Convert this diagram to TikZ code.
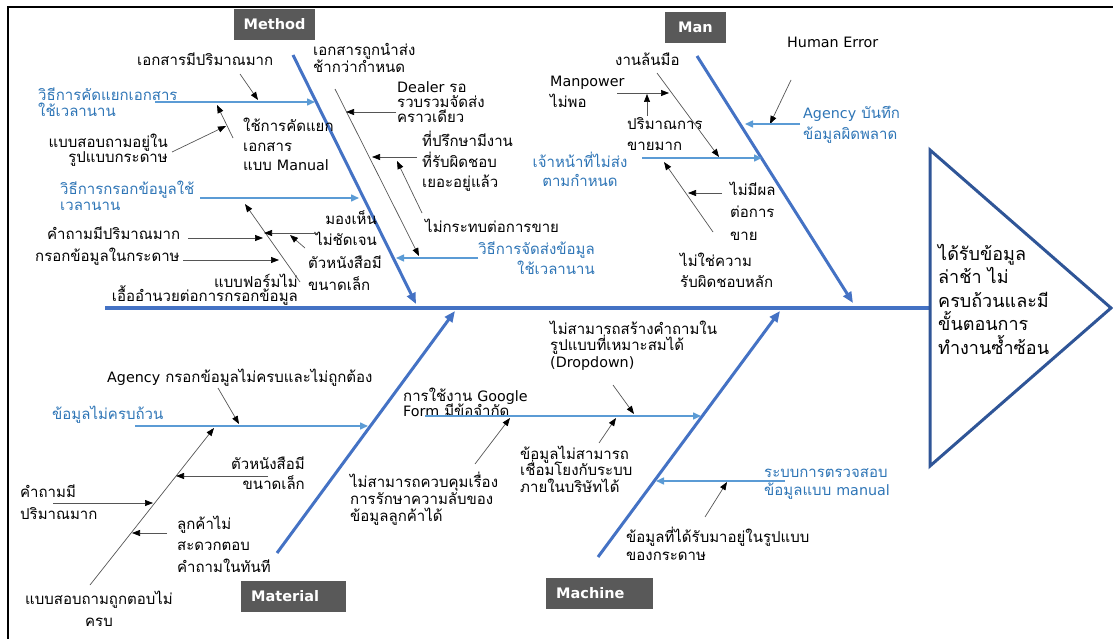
\documentclass[tikz,border=0pt]{standalone}
\usepackage{fontspec}
\setmainfont[Script=Thai]{Loma}
\newfontfamily\latfont{DejaVu Sans}
\newfontfamily\tagfont{DejaVu Sans}
\usetikzlibrary{arrows.meta}
\definecolor{bone}{HTML}{4472C4}
\definecolor{rib}{HTML}{5B9BD5}
\definecolor{ribtext}{HTML}{2E75B6}
\definecolor{tri}{HTML}{2F5597}
\definecolor{tag}{HTML}{595959}
\definecolor{twig}{HTML}{555555}
% body text with a chosen line skip; Latin words in a Tahoma-like face
\newcommand\lbf[1]{\fontsize{15}{#1}\selectfont\lineskiplimit=-100pt\relax}
\newcommand\headfont{\fontsize{18}{23.5}\selectfont\lineskiplimit=-100pt\relax}
\newcommand\lat[1]{{\latfont\fontsize{14.3}{0}\selectfont #1}}
\tikzset{
  lab/.style={inner sep=0pt, align=left, anchor=base west, font=\lbf{#1}},
  lab/.default=19,
  labr/.style={lab=#1, align=right, anchor=base east},
  labr/.default=19,
  labc/.style={lab=#1, align=center, anchor=base},
  labc/.default=19,
  blue/.style={text=ribtext},
  tagbox/.style={fill=tag, text=white, font=\tagfont\bfseries\fontsize{14.5}{15}\selectfont,
    minimum height=31pt, inner ysep=0pt},
  bonearrow/.style={draw=bone, line width=3pt, -{Triangle[length=11pt,width=9pt]}},
  ribarrow/.style={draw=rib, line width=1.5pt, -{Triangle[length=8pt,width=7pt]}},
  twig/.style={draw=twig, line width=0.7pt, -{Triangle[length=8pt,width=6pt,color=black]}},
}
\begin{document}
\begin{tikzpicture}[x=1pt,y=-1pt]
\useasboundingbox (0,0) rectangle (1113,639);
% frame
\draw[line width=2.5pt] (8,645) -- (8,7) -- (1120,7);

% ---------- spine and head ----------
\coordinate (sp0) at (105,308);
\coordinate (sp1) at (930,308);
\draw[draw=bone, line width=3.5pt] (sp0) -- (sp1);
\draw[draw=tri, line width=3pt, line join=miter] (930,150) -- (1111,308) -- (930,466) -- cycle;
\node[lab, font=\headfont] (head) at (938,354)
  {ได้รับข้อมูล\\ล่าช้า ไม่\\ครบถ้วนและมี\\ขั้นตอนการ\\ทำงานซ้ำซ้อน};

% ---------- category tags ----------
\node[tagbox, minimum width=81pt, inner xsep=0pt] (tMethod) at (274.5,24.5) {Method};
\node[tagbox, minimum width=61pt, inner xsep=0pt] (tMan) at (695.5,27.5) {Man};
\node[tagbox, anchor=west, text width=85pt, inner xsep=10pt, align=left] (tMaterial) at (241,596) {Material};
\node[tagbox, anchor=west, text width=87pt, inner xsep=10pt, align=left] (tMachine) at (546,593) {Machine};

% ---------- main bones ----------
\coordinate (bMe0) at (293,55);  \coordinate (bMe1) at (416,304);
\coordinate (bMa0) at (697,56);  \coordinate (bMa1) at (853,303);
\coordinate (bMt0) at (277,553); \coordinate (bMt1) at (455,311);
\coordinate (bMc0) at (598,557); \coordinate (bMc1) at (780,311);
\draw[bonearrow] (bMe0) -- (bMe1);
\draw[bonearrow] (bMa0) -- (bMa1);
\draw[bonearrow] (bMt0) -- (bMt1);
\draw[bonearrow] (bMc0) -- (bMc1);

% ================= Method =================
\node[lab=16, blue] (me1) at (38,117) {วิธีการคัดแยกเอกสาร\\ใช้เวลานาน};
\coordinate (r1a) at (155,102); \coordinate (r1b) at (315,102);
\draw[ribarrow] (r1a) -- (r1b);

\node[lab] (me2) at (137,66) {เอกสารมีปริมาณมาก};
\coordinate (t1a) at (240,74); \coordinate (t1b) at (258,100);
\draw[twig] (t1a) -- (t1b);

\node[lab=19.5] (me3) at (243,171) {ใช้การคัดแยก\\เอกสาร\\แบบ \lat{Manual}};
\coordinate (t2a) at (233,138); \coordinate (t2b) at (217,105);
\draw[twig] (t2a) -- (t2b);

\node[labr=15] (me4) at (168,163) {แบบสอบถามอยู่ใน\\รูปแบบกระดาษ};
\coordinate (t3a) at (172,152); \coordinate (t3b) at (226,126);
\draw[twig] (t3a) -- (t3b);

\node[lab=17, blue] (me5) at (60,211) {วิธีการกรอกข้อมูลใช้\\เวลานาน};
\coordinate (r2a) at (200,198); \coordinate (r2b) at (359,198);
\draw[ribarrow] (r2a) -- (r2b);

\node[labr=14] (me6) at (298,301) {แบบฟอร์มไม่\\เอื้ออำนวยต่อการกรอกข้อมูล};
\coordinate (t4a) at (300,282); \coordinate (t4b) at (245,204);
\draw[twig] (t4a) -- (t4b);

\node[lab] (me7) at (47,239) {คำถามมีปริมาณมาก};
\coordinate (t5a) at (188,238); \coordinate (t5b) at (263,238);
\draw[twig] (t5a) -- (t5b);

\node[lab] (me8) at (35,261) {กรอกข้อมูลในกระดาษ};
\coordinate (t6a) at (183,260); \coordinate (t6b) at (279,260);
\draw[twig] (t6a) -- (t6b);

\node[labr=21] (me9) at (377,245) {มองเห็น\\ไม่ชัดเจน};
\coordinate (t7a) at (317,233); \coordinate (t7b) at (264,233);
\draw[twig] (t7a) -- (t7b);

\node[lab=22] (me10) at (308,290) {ตัวหนังสือมี\\ขนาดเล็ก};
\coordinate (t8a) at (305,248); \coordinate (t8b) at (290,235);
\draw[twig] (t8a) -- (t8b);

\node[lab=17] (me11) at (313,73) {เอกสารถูกนำส่ง\\ช้ากว่ากำหนด};
\coordinate (t9a) at (335,89); \coordinate (t9b) at (419,256);
\draw[twig] (t9a) -- (t9b);

\node[lab=15] (me12) at (397,123) {\lat{Dealer} รอ\\รวบรวมจัดส่ง\\คราวเดียว};
\coordinate (t10a) at (396,112); \coordinate (t10b) at (346,112);
\draw[twig] (t10a) -- (t10b);

\node[lab=20.5] (me13) at (422,188) {ที่ปรึกษามีงาน\\ที่รับผิดชอบ\\เยอะอยู่แล้ว};
\coordinate (t11a) at (417,157); \coordinate (t11b) at (372,157);
\draw[twig] (t11a) -- (t11b);

\node[lab] (me14) at (425,232) {ไม่กระทบต่อการขาย};
\coordinate (t12a) at (422,213); \coordinate (t12b) at (397,161);
\draw[twig] (t12a) -- (t12b);

\node[labr=20, blue] (me15) at (595,274) {วิธีการจัดส่งข้อมูล\\ใช้เวลานาน};
\coordinate (r3a) at (478,258); \coordinate (r3b) at (396,258);
\draw[ribarrow] (r3a) -- (r3b);

% ================= Man =================
\node[labc=20, blue] (ma1) at (580,187) {เจ้าหน้าที่ไม่ส่ง\\ตามกำหนด};
\coordinate (r4a) at (642,158); \coordinate (r4b) at (762,158);
\draw[ribarrow] (r4a) -- (r4b);

\node[lab] (ma2) at (615,66) {งานล้นมือ};
\coordinate (t13a) at (657,73); \coordinate (t13b) at (719,157);
\draw[twig] (t13a) -- (t13b);

\node[lab=21] (ma3) at (550,108) {\lat{Manpower}\\ไม่พอ};
\coordinate (t14a) at (617,93); \coordinate (t14b) at (669,93);
\draw[twig] (t14a) -- (t14b);

\node[lab=21] (ma4) at (627,151) {ปริมาณการ\\ขายมาก};
\coordinate (t15a) at (647,116); \coordinate (t15b) at (647,94);
\draw[twig] (t15a) -- (t15b);

\node[lab=22] (ma5) at (730,240) {ไม่มีผล\\ต่อการ\\ขาย};
\coordinate (t16a) at (722,193); \coordinate (t16b) at (688,193);
\draw[twig] (t16a) -- (t16b);

\node[lab=21] (ma6) at (680,287) {ไม่ใช่ความ\\รับผิดชอบหลัก};
\coordinate (t17a) at (713,232); \coordinate (t17b) at (664,162);
\draw[twig] (t17a) -- (t17b);

\node[lab] (ma7) at (787,48) {\lat{Human Error}};
\coordinate (t18a) at (791,80); \coordinate (t18b) at (770,124);
\draw[twig] (t18a) -- (t18b);

\node[lab=21, blue] (ma8) at (803,140) {\lat{Agency} บันทึก\\ข้อมูลผิดพลาด};
\coordinate (r5a) at (800,124); \coordinate (r5b) at (745,124);
\draw[ribarrow] (r5a) -- (r5b);

% ================= Material =================
\node[lab, blue] (mt1) at (52,419) {ข้อมูลไม่ครบถ้วน};
\coordinate (r6a) at (135,426); \coordinate (r6b) at (368,426);
\draw[ribarrow] (r6a) -- (r6b);

\node[lab] (mt2) at (107,382) {\lat{Agency} กรอกข้อมูลไม่ครบและไม่ถูกต้อง};
\coordinate (t19a) at (218,388); \coordinate (t19b) at (239,424);
\draw[twig] (t19a) -- (t19b);

\node[labc=22] (mt3) at (99,626) {แบบสอบถามถูกตอบไม่\\ครบ};
\coordinate (t20a) at (90,585); \coordinate (t20b) at (214,428);
\draw[twig] (t20a) -- (t20b);

\node[labr=20] (mt4) at (305,489) {ตัวหนังสือมี\\ขนาดเล็ก};
\coordinate (t21a) at (268,476); \coordinate (t21b) at (176,476);
\draw[twig] (t21a) -- (t21b);

\node[lab=22] (mt5) at (20,519) {คำถามมี\\ปริมาณมาก};
\coordinate (t22a) at (53,503); \coordinate (t22b) at (153,503);
\draw[twig] (t22a) -- (t22b);

\node[lab=21.5] (mt6) at (177,572) {ลูกค้าไม่\\สะดวกตอบ\\คำถามในทันที};
\coordinate (t23a) at (167,533); \coordinate (t23b) at (132,533);
\draw[twig] (t23a) -- (t23b);

% ================= Machine =================
\node[lab=15.5] (mc1) at (403,416.5) {การใช้งาน \lat{Google}\\\lat{Form} มีข้อจำกัด};
\coordinate (r7a) at (425,416); \coordinate (r7b) at (701,416);
\draw[ribarrow] (r7a) -- (r7b);

\node[lab=16.5] (mc2) at (550,367) {ไม่สามารถสร้างคำถามใน\\รูปแบบที่เหมาะสมได้\\\lat{(Dropdown)}};
\coordinate (t24a) at (613,385); \coordinate (t24b) at (634,414);
\draw[twig] (t24a) -- (t24b);

\node[lab=17] (mc3) at (350,521) {ไม่สามารถควบคุมเรื่อง\\การรักษาความลับของ\\ข้อมูลลูกค้าได้};
\coordinate (t25a) at (475,464); \coordinate (t25b) at (510,418);
\draw[twig] (t25a) -- (t25b);

\node[lab=16.5] (mc4) at (520,492) {ข้อมูลไม่สามารถ\\เชื่อมโยงกับระบบ\\ภายในบริษัทได้};
\coordinate (t26a) at (599,443); \coordinate (t26b) at (616,418);
\draw[twig] (t26a) -- (t26b);

\node[lab=18, blue] (mc5) at (764,495) {ระบบการตรวจสอบ\\ข้อมูลแบบ \lat{manual}};
\coordinate (r8a) at (785,481); \coordinate (r8b) at (656,481);
\draw[ribarrow] (r8a) -- (r8b);

\node[lab=18] (mc6) at (626,560) {ข้อมูลที่ได้รับมาอยู่ในรูปแบบ\\ของกระดาษ};
\coordinate (t27a) at (705,517); \coordinate (t27b) at (727,482);
\draw[twig] (t27a) -- (t27b);
\end{tikzpicture}
\end{document}
